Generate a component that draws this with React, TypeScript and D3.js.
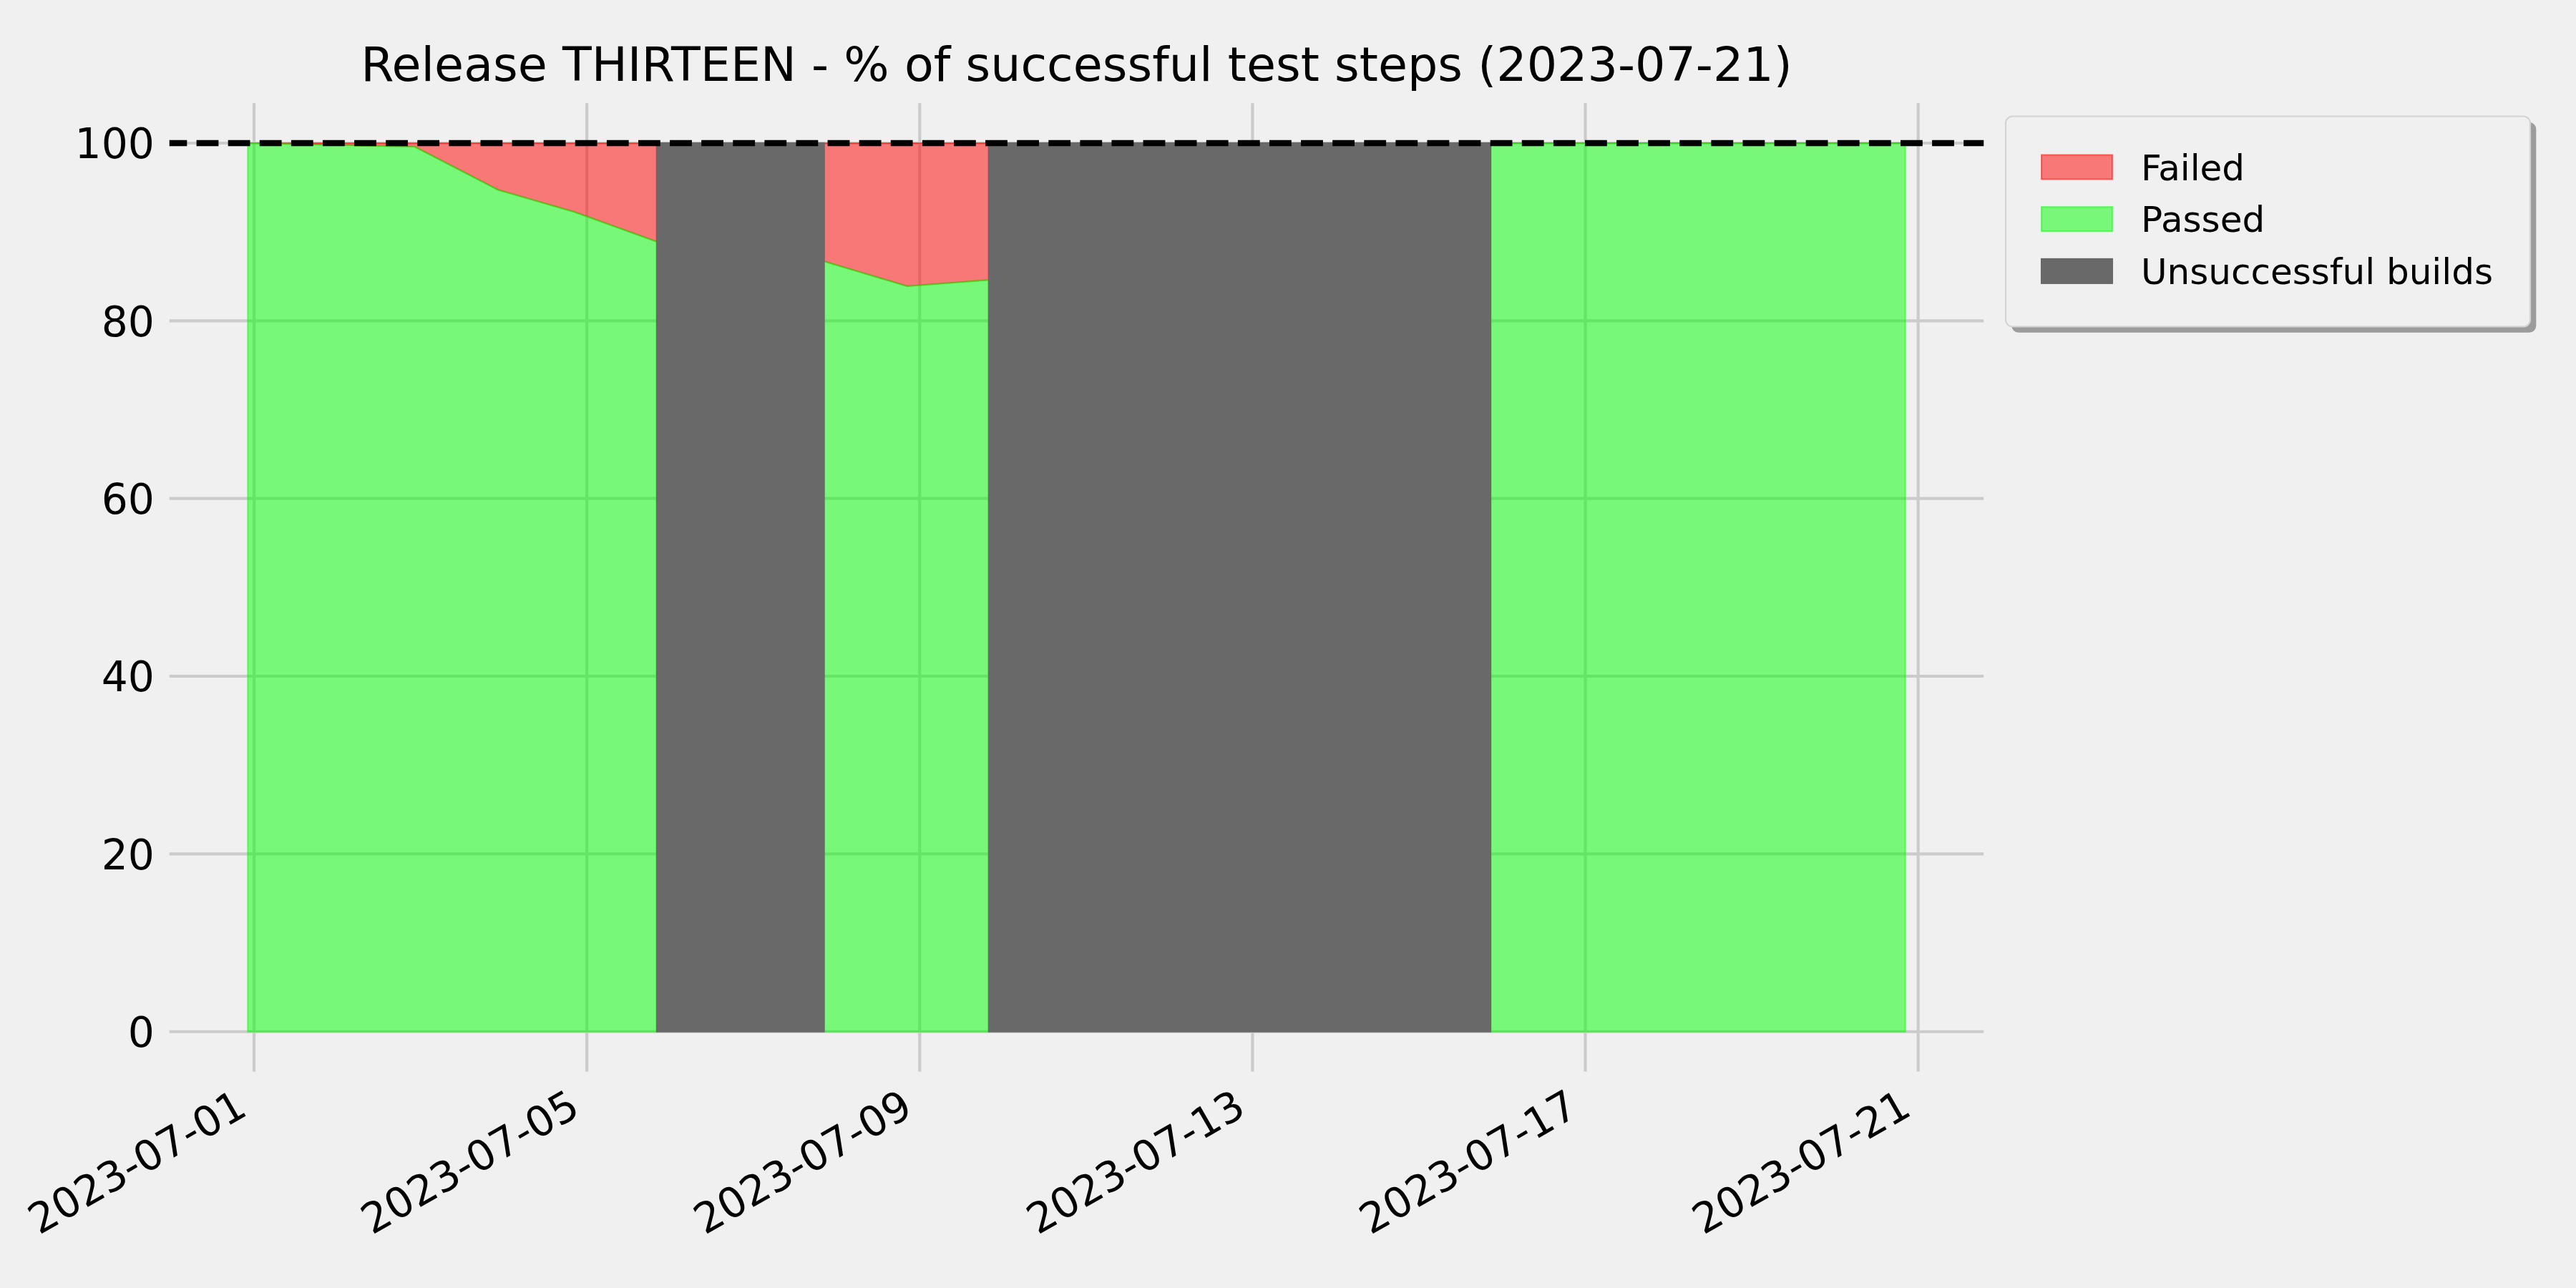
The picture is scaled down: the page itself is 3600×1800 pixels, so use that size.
import React, { useEffect, useRef } from 'react';
import * as d3 from 'd3';

// one test run per evening (local timestamps)
const RUN_TIMES = [
  '2023-06-30T22:12', '2023-07-01T22:20', '2023-07-02T22:20', '2023-07-03T22:20',
  '2023-07-04T20:25', '2023-07-05T20:10', '2023-07-06T20:25', '2023-07-07T20:25',
  '2023-07-08T20:25', '2023-07-09T19:55', '2023-07-10T20:25', '2023-07-11T20:25',
  '2023-07-12T20:25', '2023-07-13T20:25', '2023-07-14T20:25', '2023-07-15T20:40',
  '2023-07-16T20:25', '2023-07-17T20:25', '2023-07-18T20:25', '2023-07-19T20:25',
  '2023-07-20T20:17',
];
const PASSED = [100, 99.8, 99.6, 94.75, 92.25, 88.9, null, 86.7, 83.9, 84.6,
  null, null, null, null, null, 100, 100, 100, 100, 100, 100];
const FAILED = [0, 0.2, 0.4, 5.25, 7.75, 11.1, null, 13.3, 16.1, 15.4,
  null, null, null, null, null, 0, 0, 0, 0, 0, 0];
const UNSUCCESSFUL_BUILDS = [
  ['2023-07-05T20:10', '2023-07-07T20:25'],
  ['2023-07-09T19:55', '2023-07-15T20:40'],
];
const X_TICKS = ['2023-07-01', '2023-07-05', '2023-07-09', '2023-07-13', '2023-07-17', '2023-07-21'];
const Y_TICKS = [0, 20, 40, 60, 80, 100];
const LEGEND = [
  { label: 'Failed', kind: 'failed' },
  { label: 'Passed', kind: 'passed' },
  { label: 'Unsuccessful builds', kind: 'broken' },
];
const TITLE = 'Release THIRTEEN - % of successful test steps (2023-07-21)';

const App: React.FC = () => {
  const ref = useRef<SVGSVGElement>(null);

  useEffect(() => {
    if (!ref.current) return;
    const W = 3600, H = 1800;
    const ax = { left: 230.5, right: 2778.5, top: 137.9, bottom: 1503.8 };
    const font = 'DejaVu Sans';
    const tickFs = 58.3, titleFs = 66.7, legendFs = 50;

    const svg = d3.select(ref.current);
    svg.selectAll('*').remove();

    const parseRun = d3.timeParse('%Y-%m-%dT%H:%M');
    const parseDay = d3.timeParse('%Y-%m-%d');
    const rows = RUN_TIMES.map((t, i) => ({ t: parseRun(t)!, passed: PASSED[i], failed: FAILED[i] }));

    // matplotlib-style 5% margins
    const [t0, t1] = d3.extent(rows, d => +d.t) as [number, number];
    const pad = (t1 - t0) * 0.05;
    const x = d3.scaleTime().domain([new Date(t0 - pad), new Date(t1 + pad)]).range([ax.left, ax.right]);
    const y = d3.scaleLinear().domain([-5, 105]).range([ax.bottom, ax.top]);

    svg.append('rect').attr('width', W).attr('height', H).attr('fill', '#f0f0f0');

    // grid
    const grid = svg.append('g').attr('stroke', '#cbcbcb').attr('stroke-width', 4.17);
    Y_TICKS.forEach(v => {
      grid.append('line').attr('x1', ax.left).attr('x2', ax.right).attr('y1', y(v)).attr('y2', y(v));
    });
    X_TICKS.forEach(s => {
      const xv = x(parseDay(s)!);
      grid.append('line').attr('x1', xv).attr('x2', xv).attr('y1', ax.top).attr('y2', ax.bottom);
    });

    // filled areas: failed first, passed on top of it
    const defined = (d: any) => d.passed != null;
    const passedArea = d3.area<any>().defined(defined)
      .x(d => x(d.t)).y0(() => y(0)).y1(d => y(d.passed));
    const failedArea = d3.area<any>().defined(defined)
      .x(d => x(d.t)).y0(d => y(d.passed)).y1(d => y(d.passed + d.failed));

    svg.append('path').attr('d', failedArea(rows))
      .attr('fill', 'red').attr('fill-opacity', 0.5)
      .attr('stroke', 'red').attr('stroke-opacity', 0.5).attr('stroke-width', 2.08);
    svg.append('path').attr('d', passedArea(rows))
      .attr('fill', 'lime').attr('fill-opacity', 0.5)
      .attr('stroke', 'lime').attr('stroke-opacity', 0.5).attr('stroke-width', 2.08);

    // unsuccessful builds
    UNSUCCESSFUL_BUILDS.forEach(([a, b]) => {
      const xa = x(parseRun(a)!), xb = x(parseRun(b)!);
      svg.append('rect')
        .attr('x', xa).attr('y', y(100)).attr('width', xb - xa).attr('height', y(0) - y(100))
        .attr('fill', '#696969').attr('stroke', '#696969').attr('stroke-width', 2.08);
    });

    // 100% target line
    svg.append('line')
      .attr('x1', ax.left).attr('x2', ax.right).attr('y1', y(100)).attr('y2', y(100))
      .attr('stroke', '#000').attr('stroke-width', 8.33).attr('stroke-dasharray', '30.8 13.3');

    // spines (same colour as background, they hide the grid ends)
    svg.append('rect')
      .attr('x', ax.left).attr('y', ax.top)
      .attr('width', ax.right - ax.left).attr('height', ax.bottom - ax.top)
      .attr('fill', 'none').attr('stroke', '#f0f0f0').attr('stroke-width', 12.5);

    // y tick labels
    svg.append('g').selectAll('text').data(Y_TICKS).enter().append('text')
      .attr('x', ax.left - 14.6).attr('y', d => y(d) + 0.3645 * tickFs)
      .attr('text-anchor', 'end')
      .style('font-family', font).style('font-size', `${tickFs}px`).style('fill', '#000')
      .text(d => d);

    // x tick labels, rotated 30deg, right aligned
    const asc = 0.76 * tickFs, desc = 0.236 * tickFs;
    const labTop = ax.bottom + 14.6;
    svg.append('g').selectAll('text').data(X_TICKS).enter().append('text')
      .attr('transform', d => {
        const ax0 = x(parseDay(d)!) - 0.5 * desc;
        const ay0 = labTop + 0.866 * asc;
        return `translate(${ax0},${ay0}) rotate(-30)`;
      })
      .attr('text-anchor', 'end')
      .style('font-family', font).style('font-size', `${tickFs}px`).style('fill', '#000')
      .text(d => d);

    // title
    svg.append('text')
      .attr('x', (ax.left + ax.right) / 2).attr('y', ax.top - 25)
      .attr('text-anchor', 'middle')
      .style('font-family', font).style('font-size', `${titleFs}px`).style('fill', '#000')
      .text(TITLE);

    // legend
    const lg = { x: 2803, y: 162.5, w: 733, h: 294 };
    const leg = svg.append('g');
    leg.append('rect')
      .attr('x', lg.x + 8.3).attr('y', lg.y + 8.3).attr('width', lg.w).attr('height', lg.h)
      .attr('rx', 9.7).attr('fill', '#9c9c9c');
    leg.append('rect')
      .attr('x', lg.x).attr('y', lg.y).attr('width', lg.w).attr('height', lg.h)
      .attr('rx', 9.7).attr('fill', '#f0f0f0').attr('stroke', '#d3d3d3').attr('stroke-width', 2.08);

    const rowH = 72.7;
    LEGEND.forEach((item, i) => {
      const cy = 233.5 + i * rowH;
      const sw = leg.append('rect')
        .attr('x', 2853).attr('y', cy - 17).attr('width', 99).attr('height', 34)
        .attr('stroke-width', 2.08);
      if (item.kind === 'failed') {
        sw.attr('fill', 'red').attr('fill-opacity', 0.5).attr('stroke', 'red').attr('stroke-opacity', 0.5);
      } else if (item.kind === 'passed') {
        sw.attr('fill', 'lime').attr('fill-opacity', 0.5).attr('stroke', 'lime').attr('stroke-opacity', 0.5);
      } else {
        sw.attr('fill', '#696969').attr('stroke', '#696969');
      }
      leg.append('text')
        .attr('x', 2992).attr('y', 251.7 + i * rowH)
        .style('font-family', font).style('font-size', `${legendFs}px`).style('fill', '#000')
        .text(item.label);
    });
  }, []);

  return (
    <svg
      ref={ref}
      width={3600}
      height={1800}
      style={{ position: 'absolute', left: 0, top: 0, display: 'block' }}
    />
  );
};

export default App;
